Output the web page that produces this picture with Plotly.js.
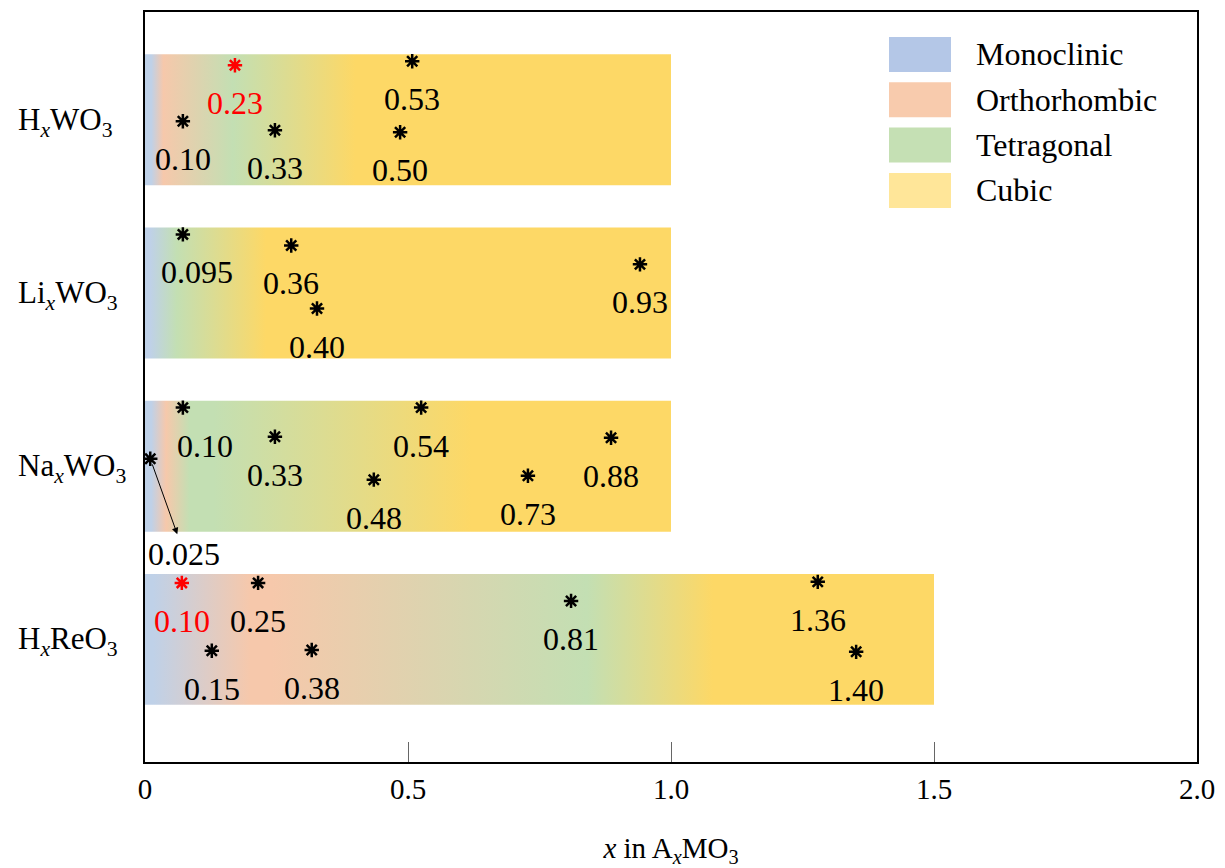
<!DOCTYPE html>
<html>
<head>
<meta charset="utf-8">
<script src="https://cdn.plot.ly/plotly-3.0.1.min.js"></script>
<style>html,body{margin:0;padding:0;background:#fff;}#chart{width:1225px;height:868px;}</style>
</head>
<body>
<div id="chart"></div>
<script>
// ---------- DATA ----------
const compounds = [
  'H<sub><i>x</i></sub>WO<sub>3</sub>',
  'Li<sub><i>x</i></sub>WO<sub>3</sub>',
  'Na<sub><i>x</i></sub>WO<sub>3</sub>',
  'H<sub><i>x</i></sub>ReO<sub>3</sub>'
];
const rangeEnd = [1.0, 1.0, 1.0, 1.5];
const phases = ['Monoclinic', 'Orthorhombic', 'Tetragonal', 'Cubic'];

// phase transition gradient (x position of each colour stop and its phase)
const gradPosHW  = [0, 0.012, 0.035, 0.167, 0.40, 1.0];
const gradPhHW   = ['Monoclinic', 'Monoclinic', 'Orthorhombic', 'Tetragonal', 'Cubic', 'Cubic'];
const gradPosLi  = [0, 0.010, 0.060, 0.23, 1.0];
const gradPhLi   = ['Monoclinic', 'Monoclinic', 'Tetragonal', 'Cubic', 'Cubic'];
const gradPosNa  = [0, 0.012, 0.040, 0.085, 0.13, 0.62, 1.0];
const gradPhNa   = ['Monoclinic', 'Monoclinic', 'Orthorhombic', 'Tetragonal', 'Tetragonal', 'Cubic', 'Cubic'];
const gradPosRe  = [0, 0.015, 0.20, 0.24, 0.84, 1.08, 1.5];
const gradPhRe   = ['Monoclinic', 'Monoclinic', 'Orthorhombic', 'Orthorhombic', 'Tetragonal', 'Cubic', 'Cubic'];

// marked compositions: label, position, vertical level inside bar, highlight
const ptLabHW = ['0.10', '0.23', '0.33', '0.50', '0.53'];
const ptXHW   = [0.072, 0.171, 0.247, 0.485, 0.508];
const ptLvHW  = [0.009, -0.315, 0.061, 0.072, -0.338];
const ptRedHW = [0, 1, 0, 0, 0];

const ptLabLi = ['0.095', '0.36', '0.40', '0.93'];
const ptXLi   = [0.072, 0.278, 0.327, 0.941];
const ptLvLi  = [-0.338, -0.274, 0.090, -0.165];
const ptRedLi = [0, 0, 0, 0];

const ptLabNa = ['0.025', '0.10', '0.33', '0.48', '0.54', '0.73', '0.88'];
const ptXNa   = [0.010, 0.072, 0.247, 0.435, 0.525, 0.728, 0.886];
const ptLvNa  = [-0.043, -0.338, -0.170, 0.078, -0.338, 0.055, -0.164];
const ptRedNa = [0, 0, 0, 0, 0, 0, 0];

const ptLabRe = ['0.10', '0.15', '0.25', '0.38', '0.81', '1.36', '1.40'];
const ptXRe   = [0.070, 0.127, 0.215, 0.317, 0.810, 1.279, 1.352];
const ptLvRe  = [-0.326, 0.066, -0.326, 0.061, -0.222, -0.332, 0.072];
const ptRedRe = [1, 0, 0, 0, 0, 0, 0];

const xTickVals = [0, 0.5, 1.0, 1.5, 2.0];
const xTickText = ['0', '0.5', '1.0', '1.5', '2.0'];

// ---------- STYLE ----------
const FONT = 'Liberation Serif, Times New Roman, serif';
const barColor = {Monoclinic: '#bfd1e8', Orthorhombic: '#f6c8ab', Tetragonal: '#c3dfb3', Cubic: '#fdd866'};
const legendColor = {Monoclinic: '#b4c7e7', Orthorhombic: '#f8cbad', Tetragonal: '#c5e0b4', Cubic: '#ffe699'};
const HALF = 0.378;
const labelXShift = {'1|0.095': 14, '2|0.10': 22};

const grads = [[gradPosHW, gradPhHW], [gradPosLi, gradPhLi], [gradPosNa, gradPhNa], [gradPosRe, gradPhRe]];
const pts = [
  [ptLabHW, ptXHW, ptLvHW, ptRedHW],
  [ptLabLi, ptXLi, ptLvLi, ptRedLi],
  [ptLabNa, ptXNa, ptLvNa, ptRedNa],
  [ptLabRe, ptXRe, ptLvRe, ptRedRe]
];

const traces = [];
const annotations = [];

compounds.forEach((c, i) => {
  const end = rangeEnd[i];
  const [gp, gph] = grads[i];
  traces.push({
    type: 'scatter', mode: 'lines',
    x: [0, end, end, 0, 0],
    y: [i - HALF, i - HALF, i + HALF, i + HALF, i - HALF],
    fill: 'toself',
    fillcolor: barColor.Cubic,
    fillgradient: {
      type: 'horizontal', start: 0, stop: end,
      colorscale: gp.map((p, k) => [p / end, barColor[gph[k]]])
    },
    line: {width: 0, color: 'rgba(0,0,0,0)'},
    hoverinfo: 'skip', showlegend: false
  });
  // category label, left aligned like the reference
  annotations.push({
    xref: 'paper', yref: 'y', x: -129 / 1052, y: i, yshift: -2,
    xanchor: 'left', yanchor: 'middle', showarrow: false,
    text: c, font: {family: FONT, size: 31, color: '#000'}
  });
});

compounds.forEach((c, i) => {
  const [lab, px, lv, red] = pts[i];
  traces.push({
    type: 'scatter', mode: 'markers',
    x: px, y: lv.map(v => i + v),
    marker: {
      symbol: 'asterisk-open', size: 12,
      color: red.map(r => r ? '#ff0000' : '#000000'),
      line: {width: 2.5, color: red.map(r => r ? '#ff0000' : '#000000')}
    },
    hoverinfo: 'skip', showlegend: false
  });
  lab.forEach((t, k) => {
    const col = red[k] ? '#ff0000' : '#000000';
    if (i === 2 && t === '0.025') {
      annotations.push({
        x: px[k], y: i + lv[k], xref: 'x', yref: 'y',
        text: t, showarrow: true, arrowside: 'start',
        startarrowhead: 2, startarrowsize: 1.3, arrowwidth: 1, arrowcolor: '#000',
        ax: 34, ay: 95, standoff: 6, startstandoff: 0,
        font: {family: FONT, size: 32, color: col}
      });
    } else {
      annotations.push({
        x: px[k], y: i + lv[k], xref: 'x', yref: 'y',
        text: t, showarrow: false,
        xshift: labelXShift[i + '|' + t] || 0, yshift: -38,
        font: {family: FONT, size: 32, color: col}
      });
    }
  });
});

// custom legend (large swatches)
const shapes = [];
const plotTop = 12, plotH = 750, plotL = 145, plotW = 1052;
const px2x = p => (p - plotL) / plotW;
const px2y = p => 1 - (p - plotTop) / plotH;
phases.forEach((ph, k) => {
  const top = 37 + 45.3 * k;
  shapes.push({
    type: 'rect', xref: 'paper', yref: 'paper',
    x0: px2x(889), x1: px2x(951), y0: px2y(top + 35), y1: px2y(top),
    fillcolor: legendColor[ph], line: {width: 0}
  });
  annotations.push({
    xref: 'paper', yref: 'paper', x: px2x(974), y: px2y(top + 17.5),
    xanchor: 'left', yanchor: 'middle', showarrow: false,
    text: ph, font: {family: FONT, size: 32, color: '#000'}
  });
});

const layout = {
  width: 1225, height: 868,
  margin: {l: 145, r: 28, t: 12, b: 106},
  paper_bgcolor: '#ffffff', plot_bgcolor: '#ffffff',
  font: {family: FONT, color: '#000'},
  showlegend: false,
  xaxis: {
    range: [0, 2], tickvals: xTickVals, ticktext: xTickText,
    ticks: 'inside', ticklen: 20, tickwidth: 1, tickcolor: '#666',
    showline: true, linecolor: '#000', linewidth: 2, mirror: true,
    showgrid: false, zeroline: false,
    tickfont: {family: FONT, size: 29, color: '#000'},
    ticklabelstandoff: 0,
    title: {text: '<i>x</i> in A<sub><i>x</i></sub>MO<sub>3</sub>', font: {family: FONT, size: 29, color: '#000'}, standoff: 44}
  },
  yaxis: {
    range: [3.708, -0.622], tickvals: [0, 1, 2, 3], showticklabels: false,
    ticks: '', showline: true, linecolor: '#000', linewidth: 2, mirror: true,
    showgrid: false, zeroline: false
  },
  shapes: shapes,
  annotations: annotations
};

Plotly.newPlot('chart', traces, layout, {displayModeBar: false, staticPlot: true});
</script>
</body>
</html>
